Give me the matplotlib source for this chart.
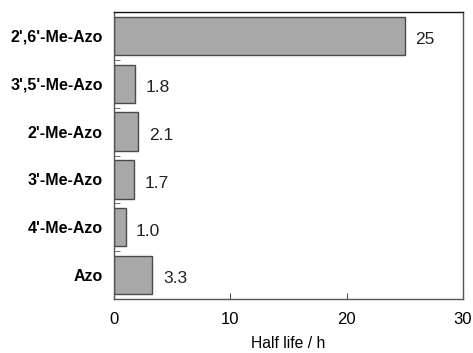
import matplotlib
matplotlib.use("Agg")
import matplotlib.pyplot as plt
import numpy as np

categories = ["Azo", "4'-Me-Azo", "3'-Me-Azo", "2'-Me-Azo", "3',5'-Me-Azo", "2',6'-Me-Azo"]
half_life = [3.3, 1.0, 1.7, 2.1, 1.8, 25]
labels = ["3.3", "1.0", "1.7", "2.1", "1.8", "25"]

plt.rcParams['font.family'] = ['Liberation Sans', 'DejaVu Sans']
fig = plt.figure(figsize=(4.73, 3.53), dpi=100)
ax = fig.add_axes([114/473, 1-299/353, (463-114)/473, (299-12)/353])
y = np.arange(len(categories))
ax.barh(y, half_life, height=0.8, color='#a8a8a8', edgecolor='#4a4a4a', linewidth=1.0)
for yi, v, t in zip(y, half_life, labels):
    ax.text(v + 0.9, yi - 0.08, t, va='center', ha='left', fontsize=12.5, color='#222222')
ax.set_xlim(0, 30)
ax.set_ylim(-0.5, len(categories) - 0.5)
ax.set_xticks([0, 10, 20, 30])
ax.set_yticks(y)
ax.set_yticklabels(categories, fontweight='bold', fontsize=11.5)
ax.set_yticks(y[:-1] + 0.5, minor=True)
ax.tick_params(axis='y', which='major', length=0, pad=8)
ax.tick_params(axis='y', which='minor', length=4, direction='in', color='#555555')
ax.tick_params(axis='x', direction='in', length=4, labelsize=12, pad=9, color='#555555')
ax.set_xlabel("Half life / h", fontsize=11.3, labelpad=7)
for k, s in ax.spines.items():
    s.set_color('#111111' if k == 'top' else '#555555')
    s.set_linewidth(1.0)
fig.savefig("out.png", dpi=100)
